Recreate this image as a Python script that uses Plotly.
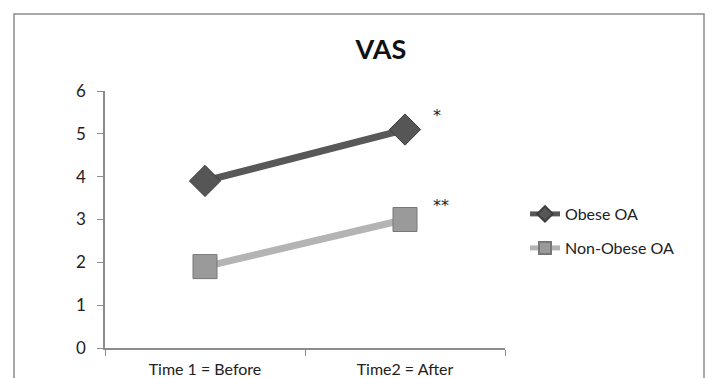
import plotly.graph_objects as go

# VAS scores before and after, by group
timepoints = ["Time 1 = Before", "Time2 = After"]
obese_oa = [3.9, 5.1]
non_obese_oa = [1.9, 3.0]
y_ticks = [0, 1, 2, 3, 4, 5, 6]
significance = ["*", "**"]

font_family = "Lato, 'Open Sans', sans-serif"

fig = go.Figure()

fig.add_trace(go.Scatter(
    x=timepoints, y=obese_oa, name="Obese OA", mode="lines+markers",
    line=dict(color="#585858", width=7),
    marker=dict(symbol="diamond", size=24, color="#565656",
                line=dict(color="#3c3c3c", width=1)),
    legend="legend",
))
fig.add_trace(go.Scatter(
    x=timepoints, y=non_obese_oa, name="Non-Obese OA", mode="lines+markers",
    line=dict(color="#b4b4b4", width=7),
    marker=dict(symbol="square", size=24, color="#9a9a9a",
                line=dict(color="#777777", width=1)),
    legend="legend2",
))

# significance marks beside the "after" points
fig.add_annotation(x=timepoints[1], y=obese_oa[1], text=significance[0],
                   showarrow=False, xshift=32, yshift=14,
                   font=dict(family="DejaVu Sans", size=16, color="#222"))
fig.add_annotation(x=timepoints[1], y=non_obese_oa[1], text=significance[1],
                   showarrow=False, xshift=36, yshift=14,
                   font=dict(family="DejaVu Sans", size=16, color="#222"))

# outer chart frame
fig.add_shape(type="rect", xref="paper", yref="paper",
              x0=-0.2275, x1=1.4975, y0=-0.2, y1=1.3,
              line=dict(color="#8c8c8c", width=1.5), layer="below")

legend_common = dict(
    xanchor="left", yanchor="middle", bgcolor="rgba(0,0,0,0)",
    font=dict(family=font_family, size=16, color="#222"),
    itemwidth=30, itemsizing="constant",
)

fig.update_layout(
    width=717, height=378,
    margin=dict(l=105, r=212, t=91, b=30),
    plot_bgcolor="white", paper_bgcolor="white",
    font=dict(family=font_family, size=16, color="#222"),
    title=dict(text="<b>VAS</b>", x=381 / 717, xanchor="center",
               y=1 - 50 / 378, yanchor="middle",
               font=dict(family=font_family, size=27, color="#111")),
    showlegend=True,
    legend=dict(x=1.05, y=(348 - 214) / 257, **legend_common),
    legend2=dict(x=1.05, y=(348 - 248) / 257, **legend_common),
    xaxis=dict(
        type="category", range=[-0.5, 1.5], showline=True,
        linecolor="#8c8c8c", linewidth=1.5, ticks="outside",
        tickson="boundaries", ticklen=6, tickcolor="#8c8c8c",
        showgrid=False, zeroline=False, ticklabelstandoff=6,
        automargin=False,
        tickfont=dict(family=font_family, size=16, color="#222"),
    ),
    yaxis=dict(
        range=[0, 6], tickvals=y_ticks, showline=True,
        linecolor="#8c8c8c", linewidth=1.5, ticks="outside", ticklen=6,
        tickcolor="#8c8c8c", showgrid=False, zeroline=False,
        ticklabelstandoff=8, automargin=False,
        tickfont=dict(family=font_family, size=17, color="#222"),
    ),
)

fig.write_html("out.html")
